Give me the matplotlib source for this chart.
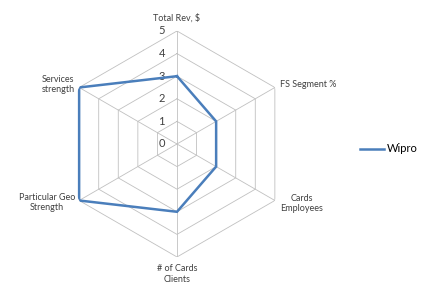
import numpy as np
import matplotlib.pyplot as plt

plt.rcParams['font.family'] = ['Lato', 'DejaVu Sans']

# данные
categories = ['Total Rev, $', 'FS Segment %', 'Cards\nEmployees',
              '# of Cards\nClients', 'Particular Geo\nStrength', 'Services\nstrength']
wipro = [3, 2, 2, 3, 5, 5]
levels = [1, 2, 3, 4, 5]
level_labels = ['0', '1', '2', '3', '4', '5']

n = len(categories)
angles = np.arange(n) * 2 * np.pi / n
closed = np.append(angles, angles[0])

fig = plt.figure(figsize=(4.38, 2.97), dpi=100)
ax = fig.add_axes([0.1461, 0.1347, 0.516, 0.761], projection='polar')
ax.set_theta_zero_location('N')
ax.set_theta_direction(-1)
ax.set_ylim(0, 5)
ax.grid(False)
ax.spines['polar'].set_visible(False)
ax.set_xticks([])
ax.set_yticks([])
ax.patch.set_alpha(0)

grid_c = '#c0c0c0'
for lv in levels:
    ax.plot(closed, [lv] * (n + 1), color=grid_c, lw=0.6, zorder=1)
for a in angles:
    ax.plot([a, a], [0, 5], color=grid_c, lw=0.6, zorder=1)

# подписи шкалы
for i, lab in enumerate(level_labels):
    ax.annotate(lab, xy=(0, i), xytext=(-11, 0), textcoords='offset points',
                ha='center', va='center', fontsize=8, color='#404040')

# подписи осей
offsets = [(0, 9.4, 'center'), (3.6, 2.2, 'left'), (19.4, -2.2, 'center'),
           (0, -12.2, 'center'), (-23, -1.4, 'center'), (-15, 2.2, 'center')]
for a, lab, (dx, dy, ha) in zip(angles, categories, offsets):
    ax.annotate(lab, xy=(a, 5), xytext=(dx, dy), textcoords='offset points',
                ha=ha, va='center', fontsize=6.5, color='#404040',
                multialignment='center', linespacing=1.25)

vals = np.append(wipro, wipro[0])
ax.plot(closed, vals, color='#4a7ebb', lw=1.8, label='Wipro', zorder=3,
        solid_joinstyle='miter')

fig.legend(loc='center left', bbox_to_anchor=(360 / 438, 1 - 149 / 297),
           frameon=False, fontsize=8, handlelength=2.2, handletextpad=0.25,
           borderpad=0, borderaxespad=0)

plt.savefig('out.png', dpi=100)
